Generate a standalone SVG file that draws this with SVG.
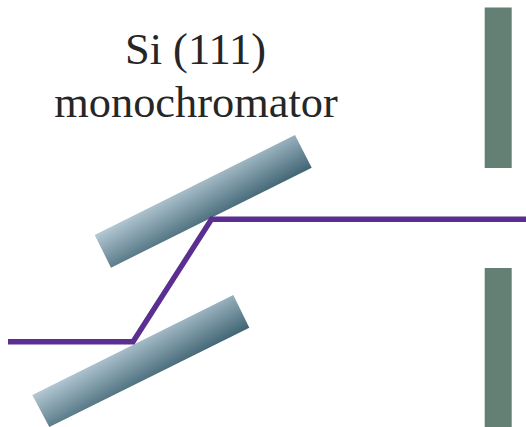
<svg xmlns="http://www.w3.org/2000/svg" width="526" height="427" viewBox="0 0 526 427">
  <style>
    .label { font-family: "Liberation Serif", "Times New Roman", serif; font-size: 44.4px; fill: #262626; text-anchor: middle; }
    .slit { fill: #647f73; }
    .beam { fill: none; stroke: #5b2f91; stroke-width: 5.4; stroke-linejoin: miter; }
  </style>
  <defs>
    <linearGradient id="g1" gradientUnits="userSpaceOnUse" x1="94.7" y1="235" x2="119" y2="277.7">
      <stop offset="0" stop-color="#b4c9d4"/>
      <stop offset="1" stop-color="#3f6373"/>
    </linearGradient>
    <linearGradient id="g2" gradientUnits="userSpaceOnUse" x1="32.3" y1="395" x2="56.6" y2="437.7">
      <stop offset="0" stop-color="#b4c9d4"/>
      <stop offset="1" stop-color="#3f6373"/>
    </linearGradient>
  </defs>
  <rect width="526" height="427" fill="#ffffff"/>
  <g id="label">
    <text class="label" x="195.5" y="63.5">Si (111)</text>
    <text class="label" x="196" y="116.5">monochromator</text>
  </g>
  <g id="crystal-upper"><polygon points="295,135 311.7,167.7 111,267.7 94.7,235" fill="url(#g1)"/></g>
  <g id="crystal-lower"><polygon points="233.3,295 249.3,327.7 49.3,427 32.3,395" fill="url(#g2)"/></g>
  <g id="slit-upper"><rect class="slit" x="484.7" y="7.5" width="27" height="160.5"/></g>
  <g id="slit-lower"><rect class="slit" x="484.7" y="268" width="27" height="159"/></g>
  <g id="connectors"><polyline class="beam" points="8,341.7 133,341.7 211.5,219.3 526,219.3"/></g>
</svg>
